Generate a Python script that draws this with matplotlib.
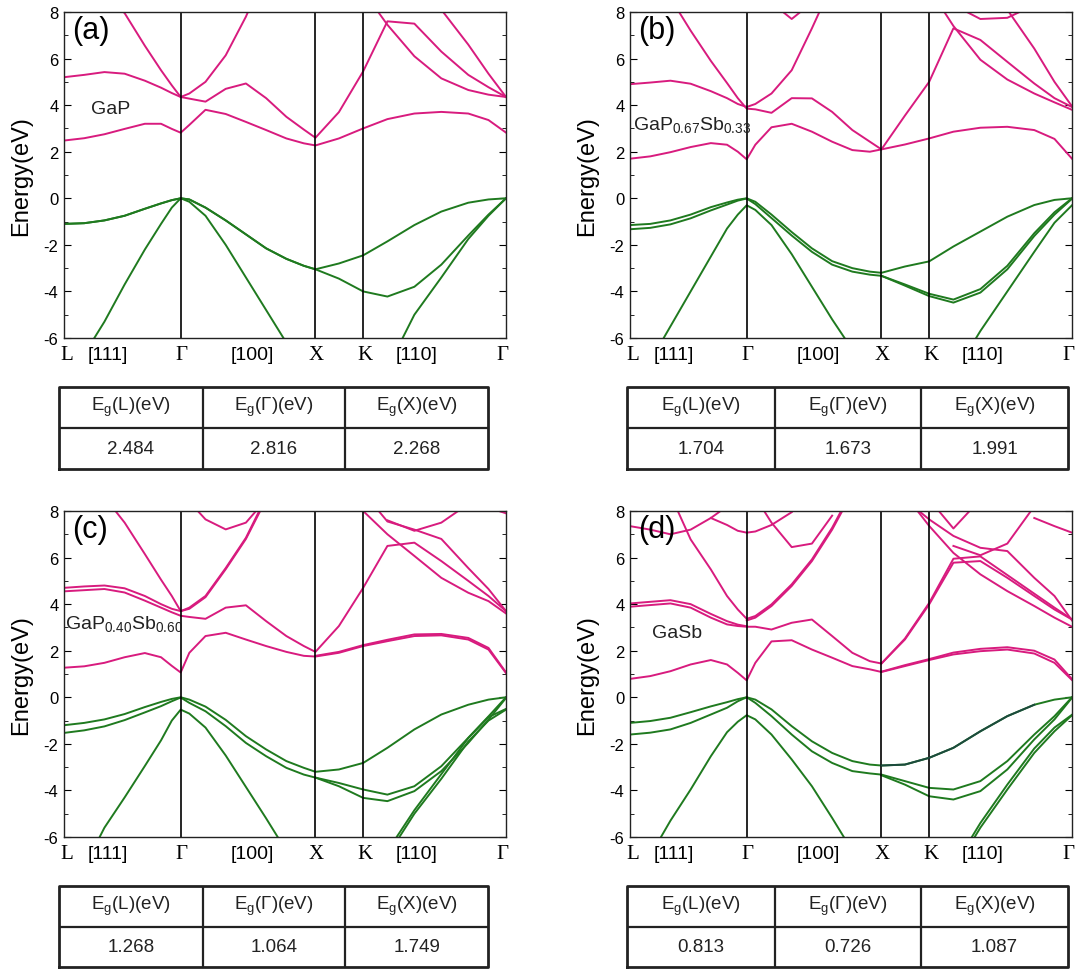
import numpy as np
import matplotlib
matplotlib.use("Agg")
import matplotlib.pyplot as plt
from matplotlib.transforms import blended_transform_factory

plt.rcParams['font.family'] = ['Liberation Sans', 'DejaVu Sans']
plt.rcParams['mathtext.default'] = 'regular'
plt.rcParams['axes.unicode_minus'] = False

n = np.nan

# k-path: L -> Gamma -> X -> K -> Gamma  (units of 2pi/a)
K_PTS = [0.0, 0.15, 0.3, 0.45, 0.6, 0.72, 0.8, 0.866,
         0.93, 1.05, 1.2, 1.35, 1.5, 1.65, 1.78, 1.866,
         2.04, 2.22,
         2.4, 2.6, 2.8, 3.0, 3.15, 3.28]
SYM_K = [0.866, 1.866, 2.22]
K_END = 3.28
PATH_LABELS = ['L', '[111]', 'Γ', '[100]', 'X', 'K', '[110]', 'Γ']
PATH_LABEL_K = [0.02, 0.326, 0.875, 1.40, 1.87, 2.23, 2.62, 3.25]

TABLE_HEAD = [r'$\mathregular{E_g(L)(eV)}$', r'$\mathregular{E_g(Γ)(eV)}$', r'$\mathregular{E_g(X)(eV)}$']

# ---- (a) GaP ----
GAP_VB = [
    [-7.5, -6.7, -5.3, -3.7, -2.2, -1.1, -0.4, 0.0, -0.15, -0.75, -2.0, -3.4, -4.8, -6.2, -7.3, n, n, n, -7.3, -5.0, -3.4, -1.75, -0.75, 0.0],
    [-1.1, -1.07, -0.95, -0.75, -0.45, -0.22, -0.08, 0.0, -0.05, -0.4, -0.95, -1.55, -2.15, -2.6, -2.9, -3.05, -3.45, -4.0, -4.22, -3.8, -2.85, -1.6, -0.7, 0.0],
    [-1.1, -1.07, -0.95, -0.75, -0.45, -0.22, -0.08, 0.0, -0.05, -0.4, -0.95, -1.55, -2.15, -2.6, -2.9, -3.05, -2.8, -2.45, -1.85, -1.15, -0.57, -0.19, -0.05, 0.0],
]
GAP_CB = [
    [2.48, 2.58, 2.75, 2.98, 3.2, 3.2, 2.98, 2.816, 3.15, 3.8, 3.62, 3.28, 2.93, 2.57, 2.36, 2.27, 2.57, 3.0, 3.4, 3.64, 3.71, 3.64, 3.36, 2.82],
    [5.2, 5.3, 5.42, 5.35, 5.05, 4.75, 4.52, 4.35, 4.5, 5.0, 6.14, 7.8, 9.8, n, n, n, n, n, n, n, n, n, n, n],
    [n, 9.8, 8.8, 7.95, 6.55, 5.5, 4.85, 4.35, 4.28, 4.15, 4.7, 4.93, 4.3, 3.5, 2.95, 2.6, 3.7, 5.45, 7.6, 7.5, 6.3, 5.3, 4.77, 4.35],
    [n] * 17 + [8.9, 7.45, 6.1, 5.15, 4.65, 4.45, 4.35],
    [n] * 19 + [9.5, 8.1, 6.6, 5.35, 4.35],
]
GAP_EG = ['2.484', '2.816', '2.268']

# ---- (b) GaP0.67Sb0.33 ----
B_VB = [
    [-7.7, -7.0, -5.5, -4.0, -2.5, -1.3, -0.7, -0.3, -0.5, -1.15, -2.4, -3.8, -5.2, -6.5, -7.5, n, n, n, -7.6, -5.7, -4.0, -2.3, -1.05, -0.3],
    [-1.15, -1.1, -0.95, -0.7, -0.38, -0.18, -0.06, 0.0, -0.15, -0.7, -1.45, -2.15, -2.7, -3.0, -3.15, -3.2, -2.93, -2.71, -2.07, -1.43, -0.79, -0.29, -0.07, 0.0],
    [-1.33, -1.27, -1.12, -0.86, -0.52, -0.27, -0.1, -0.01, -0.25, -0.85, -1.6, -2.3, -2.85, -3.15, -3.28, -3.33, -3.7, -4.1, -4.35, -3.9, -2.9, -1.5, -0.6, 0.0],
    [n] * 15 + [-3.33, -3.75, -4.2, -4.48, -4.05, -3.05, -1.62, -0.7, -0.02],
]
B_CB = [
    [1.7, 1.8, 1.98, 2.2, 2.37, 2.3, 2.0, 1.673, 2.3, 3.05, 3.2, 2.86, 2.43, 2.07, 2.0, 2.1, 2.31, 2.57, 2.86, 3.03, 3.07, 2.93, 2.55, 1.7],
    [4.9, 4.97, 5.05, 4.92, 4.6, 4.3, 4.05, 3.92, 4.05, 4.5, 5.5, 7.3, 9.2, n, n, n, n, n, n, n, n, n, n, n],
    [n, n, 8.6, 7.2, 5.9, 4.95, 4.3, 3.85, 3.82, 3.67, 4.3, 4.29, 3.71, 2.93, 2.43, 2.1, 3.55, 5.0, 7.3, 6.8, 5.86, 4.93, 4.3, 3.92],
    [n] * 17 + [9.0, 7.4, 5.95, 5.1, 4.5, 4.12, 3.8],
    [n] * 19 + [9.8, 8.1, 6.43, 5.0, 3.95],
    [n] * 18 + [8.3, 7.7, 7.75, 8.3, n, n],
    [n] * 9 + [8.4, 7.7, 8.4] + [n] * 12,
]
B_EG = ['1.704', '1.673', '1.991']

# ---- (c) GaP0.40Sb0.60 ----
C_VB = [
    [-8.2, -7.3, -5.6, -4.3, -2.95, -1.85, -1.0, -0.53, -0.7, -1.3, -2.5, -3.85, -5.2, -6.6, -7.6, n, n, n, -6.8, -5.0, -3.5, -1.9, -1.0, -0.53],
    [n] * 18 + [-6.6, -4.85, -3.3, -1.75, -0.85, -0.5],
    [-1.2, -1.1, -0.95, -0.72, -0.42, -0.2, -0.07, 0.0, -0.1, -0.4, -0.97, -1.67, -2.24, -2.74, -3.03, -3.2, -3.1, -2.82, -2.17, -1.38, -0.74, -0.32, -0.1, 0.0],
    [-1.53, -1.42, -1.25, -0.98, -0.65, -0.38, -0.17, -0.01, -0.24, -0.6, -1.24, -1.96, -2.53, -3.03, -3.32, -3.45, -3.68, -3.96, -4.18, -3.82, -2.96, -1.74, -0.82, 0.0],
    [n] * 15 + [-3.45, -3.82, -4.32, -4.46, -4.03, -3.17, -1.96, -0.96, -0.03],
]
C_CB = [
    [1.27, 1.33, 1.48, 1.72, 1.9, 1.72, 1.35, 1.064, 1.91, 2.63, 2.77, 2.48, 2.2, 1.95, 1.78, 1.75, 1.91, 2.2, 2.41, 2.63, 2.66, 2.48, 2.05, 1.04],
    [n] * 15 + [1.78, 1.95, 2.24, 2.47, 2.7, 2.72, 2.55, 2.12, 1.07],
    [4.55, 4.6, 4.65, 4.5, 4.15, 3.85, 3.65, 3.5, 3.45, 3.37, 3.85, 3.95, 3.27, 2.63, 2.2, 1.95, 3.06, 4.7, 6.5, 6.64, 5.85, 5.0, 4.35, 3.7],
    [4.7, 4.76, 4.8, 4.68, 4.35, 4.0, 3.8, 3.7, 3.8, 4.3, 5.5, 6.8, 8.5] + [n] * 11,
    [n, n, 8.6, 7.5, 6.15, 5.05, 4.35, 3.7, 3.85, 4.35, 5.55, 6.85, 8.6] + [n] * 11,
    [n] * 8 + [8.4, 7.64, 7.21, 7.5, 8.5] + [n] * 11,
    [n] * 17 + [8.0, 7.0, 6.07, 5.13, 4.49, 4.13, 3.6],
    [n] * 17 + [8.8, 7.55, 7.2, 6.8, 5.55, 4.65, 3.7],
    [n] * 18 + [7.6, 7.15, 7.5, 8.3, n, n],
    [n] * 21 + [8.5, 8.15, 7.9],
]
C_EG = ['1.268', '1.064', '1.749']

# ---- (d) GaSb ----
D_VB = [
    [-8.0, -6.8, -5.3, -3.96, -2.53, -1.5, -1.05, -0.77, -0.95, -1.6, -2.67, -3.82, -5.18, -6.6, -7.6, n, n, n, -7.5, -5.6, -3.96, -2.39, -1.46, -0.77],
    [n] * 18 + [-7.3, -5.4, -3.75, -2.2, -1.3, -0.75],
    [-1.1, -1.02, -0.88, -0.64, -0.39, -0.21, -0.08, 0.0, -0.1, -0.52, -1.24, -1.89, -2.39, -2.74, -2.89, -2.93, -2.89, -2.6, -2.17, -1.46, -0.81, -0.32, -0.1, 0.0],
    [-1.6, -1.52, -1.38, -1.1, -0.74, -0.45, -0.17, 0.0, -0.24, -0.81, -1.6, -2.32, -2.82, -3.17, -3.27, -3.32, -3.6, -3.89, -3.96, -3.6, -2.74, -1.6, -0.81, 0.0],
    [n] * 15 + [-3.35, -3.75, -4.25, -4.39, -4.03, -3.1, -1.81, -0.95, -0.02],
]
D_DARK = [n] * 15 + [-2.93, -2.89, -2.6, -2.17, -1.46, -0.81, -0.32, n, n]
D_CB = [
    [0.79, 0.91, 1.12, 1.41, 1.6, 1.41, 1.05, 0.726, 1.48, 2.4, 2.45, 2.05, 1.7, 1.34, 1.2, 1.087, 1.34, 1.6, 1.84, 1.98, 2.05, 1.88, 1.48, 0.74],
    [n] * 15 + [1.1, 1.38, 1.64, 1.92, 2.08, 2.15, 2.0, 1.62, 0.78],
    [3.89, 3.96, 4.03, 3.85, 3.42, 3.13, 3.06, 3.03, 3.03, 2.91, 3.2, 3.34, 2.63, 1.91, 1.55, 1.45, 2.48, 3.99, 5.78, 5.85, 5.13, 4.35, 3.77, 3.34],
    [4.03, 4.1, 4.17, 4.0, 3.58, 3.27, 3.12, 3.05, n, n, n, n, n, n, n, 1.45, 2.52, 4.05, 5.95, 6.05, 5.25, 4.45, 3.85, 3.35],
    [n, n, 8.7, 6.78, 5.49, 4.35, 3.77, 3.37, 3.49, 3.99, 4.85, 5.92, 7.28, 8.9] + [n] * 10,
    [n] * 7 + [3.3, 3.42, 3.92, 4.78, 5.85, 7.2, 8.8] + [n] * 10,
    [7.35, 7.2, 7.0, 7.2, 7.7, 8.2] + [n] * 18,
    [n] * 4 + [7.7, 7.4, 7.15, 7.07, 7.12, 7.4, 7.95] + [n] * 13,
    [n] * 8 + [8.6, 7.5, 6.45, 6.6, 7.8] + [n] * 11,
    [n] * 16 + [8.7, 7.36, 6.2, 5.28, 4.56, 3.92, 3.42, 3.03],
    [n] * 16 + [8.5, 7.64, 6.93, 6.42, 6.28, 5.13, 4.35, 3.3],
    [n] * 18 + [6.5, 6.1, 6.6, 8.2, n, n],
    [n] * 17 + [8.5, 7.25, 8.5] + [n] * 4,
    [n] * 21 + [7.7, 7.35, 7.07],
]
D_EG = ['0.813', '0.726', '1.087']

CB_COLOR = '#d81b7e'
VB_COLOR = '#1f7a1f'

W, H = 1081, 970
fig = plt.figure(figsize=(W / 100, H / 100), dpi=100)


def rect(x0, y0, x1, y1):
    return [x0 / W, 1 - y1 / H, (x1 - x0) / W, (y1 - y0) / H]


def band_panel(box, vb, cb, tag, name, name_xy):
    ax = fig.add_axes(rect(*box))
    for e in vb:
        ax.plot(K_PTS, e, color=VB_COLOR, lw=1.4)
    for e in cb:
        ax.plot(K_PTS, e, color=CB_COLOR, lw=1.4)
    for k in SYM_K:
        ax.axvline(k, color='black', lw=1.2)
    ax.set_xlim(0, K_END)
    ax.set_ylim(-6, 8)
    ax.set_xticks([])
    ax.set_yticks(range(-6, 9, 2))
    ax.set_yticks(range(-5, 8, 2), minor=True)
    ax.tick_params(axis='y', which='both', direction='in', right=True, labelsize=12, pad=4)
    ax.tick_params(axis='y', which='major', length=5)
    ax.tick_params(axis='y', which='minor', length=3)
    for s in ax.spines.values():
        s.set_linewidth(1.0)
        s.set_color('#222222')
    ax.set_ylabel('Energy(eV)', fontsize=17)
    ax.yaxis.set_label_coords(-0.072, 0.5)
    ax.text(0.018, 0.99, tag, transform=ax.transAxes, fontsize=22, va='top', ha='left')
    ax.text(name_xy[0], name_xy[1], name, fontsize=14, va='center', ha='left', color='#222222')
    tr = blended_transform_factory(ax.transData, ax.transAxes)
    for k, lab in zip(PATH_LABEL_K, PATH_LABELS):
        if lab.startswith('['):
            ax.text(k, -0.05, lab, transform=tr, ha='center', va='center', fontsize=14)
        else:
            ax.text(k, -0.05, lab, transform=tr, ha='center', va='center', fontsize=15,
                    family=['Liberation Serif', 'DejaVu Serif'])
    return ax


def gap_table(box, values):
    ax = fig.add_axes(rect(*box))
    ax.set_xlim(0, 1)
    ax.set_ylim(0, 1)
    ax.axis('off')
    cols = [0.0, 0.335, 0.667, 1.0]
    ax.plot([0, 1, 1, 0, 0], [0, 0, 1, 1, 0], color='#222222', lw=2, clip_on=False)
    ax.plot([0, 1], [0.5, 0.5], color='#222222', lw=1.6)
    for c in cols[1:-1]:
        ax.plot([c, c], [0, 1], color='#222222', lw=1.6)
    for i in range(3):
        xc = (cols[i] + cols[i + 1]) / 2
        ax.text(xc, 0.76, TABLE_HEAD[i], ha='center', va='center', fontsize=13.5, color='#222222')
        ax.text(xc, 0.25, values[i], ha='center', va='center', fontsize=13.5, color='#222222')


band_panel((64, 13, 506, 339), GAP_VB, GAP_CB, '(a)', 'GaP', (0.2, 3.85))
band_panel((630, 13, 1072, 339), B_VB, B_CB, '(b)', r'$\mathregular{GaP_{0.67}Sb_{0.33}}$', (0.02, 3.21))
band_panel((64, 512, 506, 838), C_VB, C_CB, '(c)', r'$\mathregular{GaP_{0.40}Sb_{0.60}}$', (0.01, 3.2))
axd = band_panel((630, 512, 1072, 838), D_VB, D_CB, '(d)', 'GaSb', (0.16, 2.77))
axd.plot(K_PTS, D_DARK, color='#1c4a3e', lw=1.4)

gap_table((59, 388, 488, 470), GAP_EG)
gap_table((627, 388, 1068, 470), B_EG)
gap_table((59, 887, 488, 968), C_EG)
gap_table((627, 887, 1068, 968), D_EG)

fig.savefig('out.png', dpi=100)
